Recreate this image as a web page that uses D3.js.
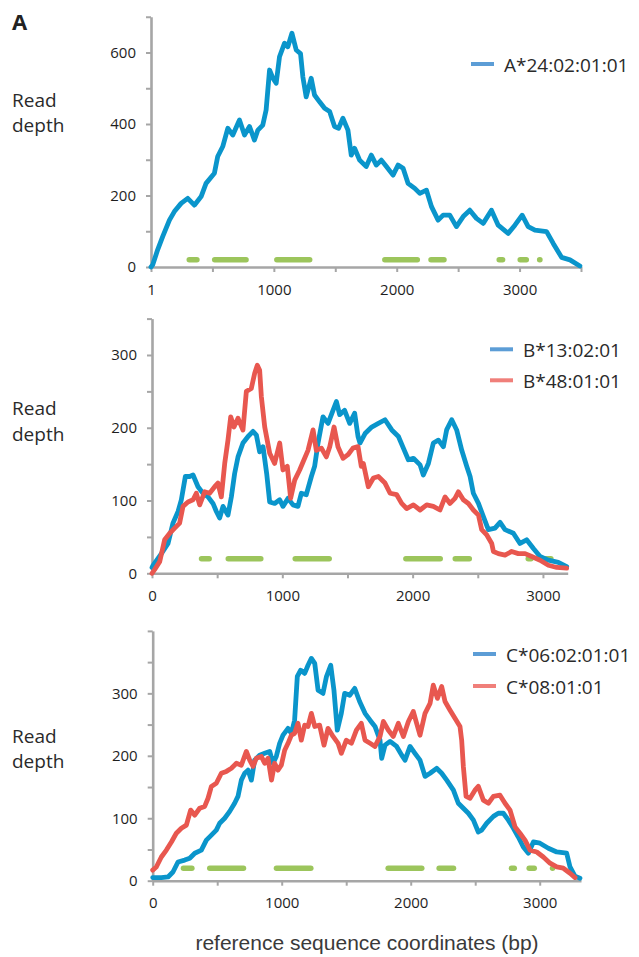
<!DOCTYPE html>
<html>
<head>
<meta charset="utf-8">
<script src="https://cdn.jsdelivr.net/npm/d3@7"></script>
<style>
  body { margin: 0; background: #fff; }
</style>
</head>
<body>
<div id="chart"></div>
<script>
// read depth along the reference, [bp, depth]
const a2402 = [[0,0],[14,6],[54,48],[95,85],[150,131],[190,155],[245,178],[299,192],[353,173],[408,197],[448,234],[516,262],[543,309],[584,337],[625,388],[666,369],[720,411],[761,369],[802,393],[842,355],[870,383],[910,397],[937,439],[965,551],[992,528],[1019,514],[1046,588],[1087,626],[1114,616],[1147,654],[1182,607],[1217,597],[1236,532],[1263,476],[1304,528],[1331,481],[1372,462],[1413,444],[1454,435],[1494,393],[1527,388],[1562,416],[1603,383],[1630,313],[1657,332],[1698,299],[1752,281],[1793,313],[1834,285],[1875,299],[1916,281],[1970,257],[2011,285],[2052,276],[2092,234],[2147,220],[2188,206],[2242,215],[2283,169],[2337,131],[2378,145],[2432,145],[2486,113],[2541,141],[2595,159],[2649,136],[2704,122],[2771,159],[2826,117],[2907,94],[2962,117],[3021,145],[3070,113],[3125,103],[3220,99],[3274,66],[3342,27],[3410,20],[3491,3]];

const b1302 = [[0,8],[8,11],[72,27],[123,41],[161,69],[200,85],[225,101],[256,133],[289,133],[315,135],[353,119],[391,110],[430,105],[468,96],[494,85],[519,76],[545,92],[583,80],[609,105],[634,137],[660,160],[698,179],[737,188],[775,195],[801,190],[826,167],[852,174],[880,137],[903,98],[941,96],[980,101],[1005,92],[1044,103],[1082,94],[1120,92],[1146,110],[1184,108],[1223,133],[1248,147],[1274,179],[1312,215],[1351,206],[1389,224],[1415,236],[1440,218],[1478,224],[1517,206],[1555,220],[1581,188],[1596,179],[1635,192],[1686,201],[1737,206],[1788,211],[1840,197],[1891,188],[1929,172],[1967,156],[2006,158],[2057,149],[2082,135],[2121,151],[2159,179],[2198,183],[2236,174],[2261,197],[2300,211],[2338,197],[2377,169],[2415,147],[2441,133],[2466,110],[2505,96],[2543,78],[2581,60],[2632,62],[2671,70],[2709,60],[2773,55],[2824,41],[2875,46],[2927,34],[2978,23],[3042,18],[3118,15],[3182,9]];

const b4801 = [[0,0],[20,5],[59,16],[97,46],[136,55],[174,62],[212,69],[238,92],[276,98],[315,101],[340,110],[366,94],[404,112],[442,110],[481,119],[506,124],[532,105],[558,151],[583,183],[604,215],[629,201],[660,213],[698,197],[724,250],[762,254],[788,275],[808,286],[826,279],[839,243],[865,201],[903,165],[941,151],[980,179],[1005,142],[1038,147],[1064,103],[1095,128],[1133,142],[1159,153],[1197,169],[1236,197],[1261,169],[1300,172],[1338,160],[1364,174],[1397,201],[1427,174],[1466,158],[1504,163],[1542,172],[1581,174],[1606,147],[1622,151],[1660,119],[1699,131],[1737,133],[1788,124],[1827,110],[1878,108],[1916,96],[1954,89],[2006,94],[2057,87],[2108,94],[2159,92],[2210,87],[2249,105],[2287,96],[2325,103],[2351,112],[2389,101],[2428,96],[2466,87],[2505,80],[2530,60],[2568,53],[2607,41],[2620,30],[2658,27],[2709,25],[2760,30],[2811,27],[2863,27],[2914,23],[2978,18],[3042,11],[3106,8],[3182,7]];

const c0602 = [[0,5],[67,5],[119,6],[157,14],[196,30],[248,33],[287,36],[326,44],[377,49],[416,65],[455,73],[493,81],[519,92],[558,100],[597,111],[635,124],[661,135],[687,161],[713,172],[739,177],[765,161],[790,193],[829,201],[868,204],[907,207],[933,188],[958,199],[984,220],[1010,233],[1049,244],[1075,236],[1100,257],[1121,327],[1147,337],[1178,332],[1204,345],[1230,356],[1256,348],[1282,305],[1320,300],[1347,327],[1380,345],[1405,305],[1431,241],[1462,268],[1488,300],[1527,297],[1566,308],[1604,287],[1646,268],[1685,257],[1723,247],[1762,225],[1775,196],[1801,217],[1840,223],[1891,215],[1930,201],[1956,193],[1995,215],[2033,204],[2072,193],[2111,167],[2150,172],[2201,180],[2240,172],[2279,161],[2331,145],[2369,124],[2408,116],[2447,108],[2486,97],[2524,78],[2550,81],[2589,92],[2641,103],[2679,108],[2718,108],[2757,97],[2796,84],[2834,70],[2873,54],[2912,44],[2951,62],[3002,60],[3067,52],[3132,46],[3209,44],[3235,22],[3274,7],[3312,4]];

const c0801 = [[0,17],[28,22],[67,38],[106,49],[145,62],[183,76],[222,84],[261,89],[294,113],[326,105],[364,116],[403,119],[429,132],[455,151],[493,156],[532,172],[571,175],[610,180],[649,188],[687,185],[726,207],[752,193],[778,183],[803,196],[842,199],[868,188],[894,196],[921,161],[945,188],[971,177],[997,185],[1023,209],[1049,220],[1075,233],[1100,236],[1126,252],[1152,225],[1178,249],[1204,247],[1230,268],[1256,247],[1294,249],[1328,217],[1359,244],[1398,231],[1437,220],[1462,204],[1501,225],[1540,220],[1579,241],[1617,252],[1646,225],[1685,220],[1723,215],[1762,231],[1788,255],[1827,241],[1865,231],[1904,252],[1943,231],[1982,255],[2020,271],[2046,252],[2072,233],[2111,268],[2150,284],[2175,313],[2207,292],[2240,311],[2266,287],[2305,273],[2343,260],[2382,247],[2395,225],[2408,183],[2429,135],[2460,132],[2498,145],[2524,151],[2563,129],[2602,124],[2641,135],[2692,137],[2731,124],[2770,113],[2809,86],[2847,76],[2886,65],[2925,49],[2977,46],[3028,38],[3080,28],[3132,22],[3183,20],[3235,12],[3274,5]];

// exon positions (start, end bp), drawn as green bars
const exonsA = [[291,394],[498,794],[1004,1312],[1883,2188],[2259,2405],[2814,2882],[2985,3075],[3143,3186]];
const exonsB = [[361,458],[566,854],[1080,1379],[1929,2231],[2308,2454],[2868,2927],[3003,3080]];
const exonsC = [[219,323],[423,723],[940,1245],[1806,2105],[2201,2351],[2762,2822],[2899,2977],[3080,3119]];
const exonDepth = 20;

const blue = "#0a95cb", red = "#e8574f", green = "#9cc55c", axisGray = "#a6a6a6";
const legendBlue = "#5c9dd6", legendRed = "#f07f7a";

const width = 639, height = 957;
const svg = d3.select("#chart").append("svg")
  .attr("width", width)
  .attr("height", height);

const panels = [
  { xMax: 3500, yMax: 700, yStep: 100, yLabelStep: 200, zeroLabel: "1",
    left: 151, right: 581, top: 16.75, bottom: 267, labelY: 106.7,
    exons: exonsA, legendX: 471, legendY: 64, legendGap: 31,
    series: [{ name: "A*24:02:01:01", data: a2402, color: blue, key: legendBlue }] },
  { xMax: 3190, yMax: 350, yStep: 50, yLabelStep: 100, zeroLabel: "0",
    left: 152, right: 567.7, top: 318.6, bottom: 573.3, labelY: 415,
    exons: exonsB, legendX: 490, legendY: 349.3, legendGap: 31,
    series: [{ name: "B*13:02:01", data: b1302, color: blue, key: legendBlue },
             { name: "B*48:01:01", data: b4801, color: red, key: legendRed }] },
  { xMax: 3320, yMax: 400, yStep: 50, yLabelStep: 100, zeroLabel: "0",
    left: 152.7, right: 581, top: 630.9, bottom: 880.7, labelY: 742.7,
    exons: exonsC, legendX: 473, legendY: 654, legendGap: 32,
    series: [{ name: "C*06:02:01:01", data: c0602, color: blue, key: legendBlue },
             { name: "C*08:01:01", data: c0801, color: red, key: legendRed }] }
];

function drawPanel(p) {
  const x = d3.scaleLinear().domain([0, p.xMax]).range([p.left, p.right]);
  const y = d3.scaleLinear().domain([0, p.yMax]).range([p.bottom, p.top]);
  const g = svg.append("g");

  // exon bars first, coverage on top
  g.selectAll(".exon")
    .data(p.exons)
    .enter()
    .append("line")
    .attr("x1", d => x(d[0]) + 2.5)
    .attr("x2", d => x(d[1]) - 2.5)
    .attr("y1", y(exonDepth))
    .attr("y2", y(exonDepth))
    .attr("stroke", green)
    .attr("stroke-width", 5.5)
    .attr("stroke-linecap", "round");

  // axes (top tick of the y axis stays unlabelled)
  const xAxis = d3.axisBottom(x)
    .tickValues(d3.range(0, p.xMax + 1, 500))
    .tickSize(5)
    .tickSizeOuter(0)
    .tickPadding(12)
    .tickFormat(d => d % 1000 === 0 ? (d === 0 ? p.zeroLabel : d) : "");
  const yAxis = d3.axisLeft(y)
    .tickValues(d3.range(0, p.yMax + 1, p.yStep))
    .tickSize(5)
    .tickSizeOuter(0)
    .tickPadding(10)
    .tickFormat(d => d % p.yLabelStep === 0 && d < p.yMax ? d : "");

  [[xAxis, `translate(0,${p.bottom})`], [yAxis, `translate(${p.left},0)`]].forEach(([ax, tr]) => {
    const a = g.append("g").attr("transform", tr).call(ax);
    a.select(".domain").attr("stroke", axisGray).attr("stroke-width", 2.6);
    a.selectAll(".tick line").attr("stroke", axisGray).attr("stroke-width", 2);
    a.selectAll(".tick text")
      .attr("font-family", "'Open Sans', sans-serif")
      .attr("font-size", "15px")
      .attr("fill", "#1e1e1e");
  });

  const line = d3.line().x(d => x(d[0])).y(d => y(d[1]));
  p.series.forEach(s => {
    g.append("path")
      .datum(s.data)
      .attr("d", line)
      .attr("fill", "none")
      .attr("stroke", s.color)
      .attr("stroke-width", 4.8)
      .attr("stroke-linejoin", "round")
      .attr("stroke-linecap", "round");
  });

  // y label
  const lab = g.append("text")
    .attr("x", 12)
    .attr("y", p.labelY)
    .attr("font-family", "'Open Sans', sans-serif")
    .attr("font-size", "19px")
    .attr("fill", "#2a2a2a");
  lab.append("tspan").attr("x", 12).text("Read");
  lab.append("tspan").attr("x", 12).attr("dy", 25.5).text("depth");

  // legend
  p.series.forEach((s, i) => {
    const ly = p.legendY + i * p.legendGap;
    g.append("line")
      .attr("x1", p.legendX).attr("x2", p.legendX + 23)
      .attr("y1", ly).attr("y2", ly)
      .attr("stroke", s.key)
      .attr("stroke-width", 4);
    g.append("text")
      .attr("x", p.legendX + 33)
      .attr("y", ly + 7.5)
      .attr("font-family", "'Open Sans', sans-serif")
      .attr("font-size", "19px")
      .attr("fill", "#2a2a2a")
      .text(s.name);
  });
}

panels.forEach(drawPanel);

svg.append("text")
  .attr("x", 12)
  .attr("y", 30)
  .attr("font-family", "'Open Sans', sans-serif")
  .attr("font-weight", "bold")
  .attr("font-size", "22px")
  .attr("fill", "#222")
  .text("A");

svg.append("text")
  .attr("x", 367)
  .attr("y", 950)
  .attr("text-anchor", "middle")
  .attr("font-family", "'Liberation Sans', Arial, sans-serif")
  .attr("font-size", "21px")
  .attr("fill", "#3a3a3a")
  .text("reference sequence coordinates (bp)");
</script>
</body>
</html>
